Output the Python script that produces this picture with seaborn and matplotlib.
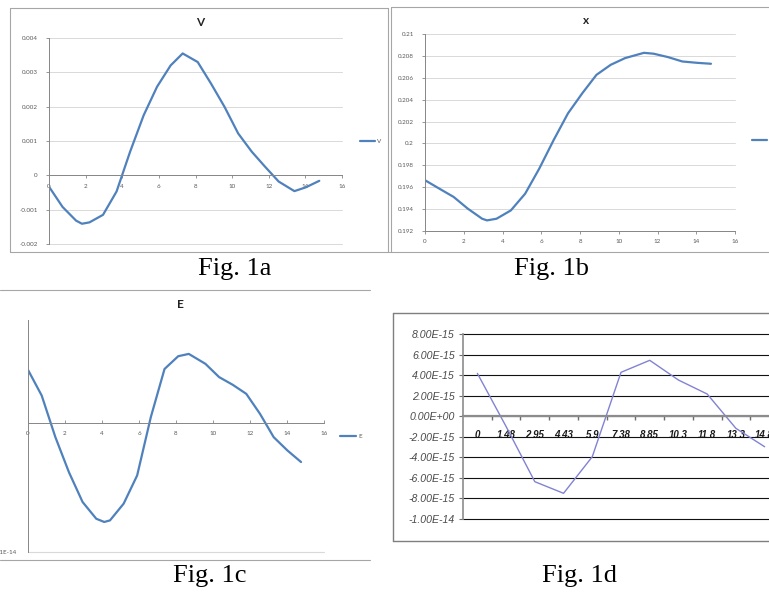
import matplotlib
matplotlib.use("Agg")
import matplotlib.pyplot as plt
from matplotlib.lines import Line2D
from matplotlib.font_manager import FontProperties
import seaborn as sns

# Fig. 1a (V)
v_t = [0, 0.74, 1.48, 1.8, 2.21, 2.95, 3.69, 4.43, 5.17, 5.9, 6.64, 7.3,
       8.12, 8.85, 9.59, 10.33, 11.07, 11.8, 12.54, 13.4, 14.02, 14.76]
v_vals = [-0.00033, -0.00092, -0.00132, -0.00141, -0.00137, -0.00115, -0.00047, 0.00069,
          0.00175, 0.00258, 0.0032, 0.00355, 0.0033, 0.00267, 0.00199, 0.00122,
          0.00069, 0.00025, -0.00018, -0.00046, -0.00035, -0.00016]

# Fig. 1b (x)
x_t = [0, 0.74, 1.48, 2.21, 2.95, 3.2, 3.69, 4.43, 5.17, 5.9, 6.64, 7.38,
       8.12, 8.85, 9.59, 10.33, 11.3, 11.8, 12.54, 13.28, 14.02, 14.76]
x_vals = [0.19664, 0.19587, 0.19511, 0.19404, 0.19312, 0.19297, 0.19312, 0.19388,
          0.19541, 0.19771, 0.20031, 0.20275, 0.20459, 0.20627, 0.20719,
          0.2078, 0.20828, 0.2082, 0.20789, 0.20749, 0.20737, 0.20728]

# Fig. 1c (E)
e_t = [0, 0.74, 1.48, 2.21, 2.95, 3.69, 4.12, 4.43, 5.17, 5.9, 6.64, 7.38,
       8.12, 8.69, 9.59, 10.33, 11.07, 11.8, 12.54, 13.28, 14.02, 14.76]
e_vals = [4.13e-15, 2.14e-15, -1.09e-15, -3.8e-15, -6.12e-15, -7.42e-15, -7.67e-15,
          -7.55e-15, -6.25e-15, -4.06e-15, 0.47e-15, 4.2e-15, 5.19e-15, 5.37e-15,
          4.6e-15, 3.57e-15, 2.97e-15, 2.27e-15, 0.72e-15, -1.09e-15, -2.12e-15, -3.02e-15]

# Fig. 1d: category chart
d_cats = ["0", "1.48", "2.95", "4.43", "5.9", "7.38", "8.85", "10.3", "11.8", "13.3", "14.8"]
d_vals = [4.17e-15, -1.0e-15, -6.37e-15, -7.5e-15, -3.94e-15, 4.27e-15, 5.44e-15,
          3.52e-15, 2.16e-15, -1.18e-15, -2.97e-15]

x_ticks = [0, 2, 4, 6, 8, 10, 12, 14, 16]
v_ticks = [-0.002, -0.001, 0, 0.001, 0.002, 0.003, 0.004]
v_labels = ["-0.002", "-0.001", "0", "0.001", "0.002", "0.003", "0.004"]
xx_ticks = [0.192, 0.194, 0.196, 0.198, 0.2, 0.202, 0.204, 0.206, 0.208, 0.21]
xx_labels = ["0.192", "0.194", "0.196", "0.198", "0.2", "0.202", "0.204", "0.206", "0.208", "0.21"]
d_ticks = [-1e-14, -8e-15, -6e-15, -4e-15, -2e-15, 0, 2e-15, 4e-15, 6e-15, 8e-15]
d_labels = ["-1.00E-14", "-8.00E-15", "-6.00E-15", "-4.00E-15", "-2.00E-15",
            "0.00E+00", "2.00E-15", "4.00E-15", "6.00E-15", "8.00E-15"]

sns.set_theme(style="white")
plt.rcParams["font.family"] = ["Lato", "DejaVu Sans"]
plt.rcParams["lines.solid_joinstyle"] = "round"

W, H = 769, 592
fig = plt.figure(figsize=(W / 100, H / 100), dpi=100)
fig.patch.set_facecolor("white")


def fx(x):
    return x / W


def fy(y):
    return 1 - y / H


def axes_px(l, t_, r, b):
    return fig.add_axes([l / W, 1 - b / H, (r - l) / W, (b - t_) / H])


def frame_line(x0, y0, x1, y1, color="#a6a6a6", lw=0.8):
    fig.add_artist(Line2D([fx(x0), fx(x1)], [fy(y0), fy(y1)], transform=fig.transFigure,
                          color=color, lw=lw))


def unclip_grid(ax):
    for gl in ax.get_ygridlines():
        gl.set_clip_on(False)


BLUE = "#4F81BD"
AXC = "#868686"
LBL = "#595959"
GRID = "#d9d9d9"


def excel_style(ax):
    ax.set_facecolor("none")
    for s in ["top", "right"]:
        ax.spines[s].set_visible(False)
    for s in ["left", "bottom"]:
        ax.spines[s].set_color(AXC)
        ax.spines[s].set_linewidth(0.7)
    ax.tick_params(axis="both", labelsize=4.5, labelcolor=LBL, color=AXC, length=2, width=0.6,
                   bottom=True, left=True)
    ax.set_xlabel("")
    ax.set_ylabel("")


def excel_legend(ax, x, y, hl=2.4):
    ax.legend(loc="center left", bbox_to_anchor=(fx(x), fy(y)), bbox_transform=fig.transFigure,
              frameon=False, fontsize=4.5, handlelength=hl, handletextpad=0.3, borderpad=0,
              borderaxespad=0, labelcolor=LBL)


# ---------- Fig. 1a ----------
ax1 = axes_px(49, 38, 342, 244)
sns.lineplot(x=v_t, y=v_vals, ax=ax1, color=BLUE, lw=1.6, label="V")
ax1.set_xlim(0, 16)
ax1.set_ylim(-0.002, 0.004)
ax1.set_xticks(x_ticks)
ax1.set_yticks(v_ticks)
ax1.set_yticklabels(v_labels)
excel_style(ax1)
ax1.spines["bottom"].set_position(("data", 0))
ax1.tick_params(axis="y", pad=6)
ax1.tick_params(axis="x", pad=4)
ax1.yaxis.grid(True, color=GRID, lw=0.7)
unclip_grid(ax1)
excel_legend(ax1, 360, 141)
fig.text(fx(200), fy(22), "V", ha="center", va="center", fontsize=8.5, fontweight="bold", color="#222222")

# ---------- Fig. 1b ----------
ax2 = axes_px(425, 34, 735, 231)
sns.lineplot(x=x_t, y=x_vals, ax=ax2, color=BLUE, lw=1.6, label="x")
ax2.set_xlim(0, 16)
ax2.set_ylim(0.192, 0.21)
ax2.set_xticks(x_ticks)
ax2.set_yticks(xx_ticks)
ax2.set_yticklabels(xx_labels)
excel_style(ax2)
ax2.tick_params(axis="y", pad=6)
ax2.tick_params(axis="x", pad=4)
ax2.yaxis.grid(True, color=GRID, lw=0.7)
unclip_grid(ax2)
excel_legend(ax2, 752, 140)
fig.text(fx(586), fy(20), "x", ha="center", va="center", fontsize=8.5, fontweight="bold", color="#222222")

# ---------- Fig. 1c ----------
ax3 = axes_px(28, 320, 324, 552)
sns.lineplot(x=e_t, y=e_vals, ax=ax3, color=BLUE, lw=1.6, label="E")
ax3.set_xlim(0, 16)
ax3.set_ylim(-1e-14, 8e-15)
ax3.set_xticks(x_ticks)
ax3.set_yticks([-1e-14])
ax3.set_yticklabels(["-1E-14"])
excel_style(ax3)
ax3.spines["bottom"].set_position(("data", 0))
ax3.tick_params(axis="x", direction="in", pad=6)
ax3.tick_params(axis="y", length=0, pad=8)
ax3.yaxis.grid(True, color=GRID, lw=0.8)
unclip_grid(ax3)
ax3.yaxis.get_offset_text().set_visible(False)
excel_legend(ax3, 340, 436, hl=2.6)
fig.text(fx(180), fy(304), "E", ha="center", va="center", fontsize=8.5, fontweight="bold", color="#222222")

# ---------- Fig. 1d ----------
ax4 = axes_px(463, 334, 779, 519)
idx = list(range(len(d_cats)))
sns.lineplot(x=idx, y=d_vals, ax=ax4, color="#8282d4", lw=1.0, legend=False)
ax4.set_xlim(-0.5, len(d_cats) - 0.5)
ax4.set_ylim(-1e-14, 8e-15)
ax4.set_facecolor("none")
for s in ["top", "right"]:
    ax4.spines[s].set_visible(False)
ax4.spines["left"].set_color("#8c8c8c")
ax4.spines["left"].set_linewidth(1.2)
ax4.spines["bottom"].set_position(("data", 0))
ax4.spines["bottom"].set_color("#8c8c8c")
ax4.spines["bottom"].set_linewidth(1.6)
ax4.spines["bottom"].set_zorder(3)
ax4.tick_params(axis="x", which="major", length=0, pad=10, bottom=True)
ax4.tick_params(axis="x", which="minor", length=3, width=1, color="#6e6e6e", direction="out", bottom=True)
ax4.tick_params(axis="y", length=3, width=0.8, color="#6e6e6e", pad=3, left=True)
ax4.set_xlabel("")
ax4.set_ylabel("")
ax4.yaxis.get_offset_text().set_visible(False)

fp_y = FontProperties(family="Liberation Sans", style="italic", size=7.6)
fp_x = FontProperties(family="Liberation Sans", style="italic", weight="bold", size=7)
ax4.set_yticks(d_ticks)
ax4.set_yticklabels(d_labels)
ax4.set_xticks(idx)
ax4.set_xticklabels(d_cats)
ax4.set_xticks([i + 0.5 for i in idx[:-1]], minor=True)
ax4.yaxis.grid(True, color="#111111", lw=0.8)
ax4.set_axisbelow(True)
unclip_grid(ax4)
for lab in ax4.get_yticklabels():
    lab.set_fontproperties(fp_y)
    lab.set_color("#4a4a4a")
for lab in ax4.get_xticklabels():
    lab.set_fontproperties(fp_x)
    lab.set_color("#1a1a1a")

# ---------- panel frames ----------
frame_line(10, 8, 388, 8)
frame_line(10, 8, 10, 252)
frame_line(10, 252, 391, 252)
frame_line(388, 8, 388, 252)
frame_line(391, 7, 769, 7)
frame_line(391, 7, 391, 252)
frame_line(391, 252, 769, 252)
frame_line(0, 290, 370, 290)
frame_line(0, 560, 370, 560)
frame_line(393, 313, 769, 313, color="#7f7f7f", lw=1.0)
frame_line(393, 313, 393, 541, color="#7f7f7f", lw=1.0)
frame_line(393, 541, 769, 541, color="#7f7f7f", lw=1.0)

# ---------- captions ----------
cap = dict(ha="center", va="baseline", fontsize=19, family="Liberation Serif", color="black")
fig.text(fx(235), fy(275), "Fig. 1a", **cap)
fig.text(fx(551), fy(275), "Fig. 1b", **cap)
fig.text(fx(210), fy(582), "Fig. 1c", **cap)
fig.text(fx(579), fy(582), "Fig. 1d", **cap)

fig.savefig("out.png", dpi=100)
